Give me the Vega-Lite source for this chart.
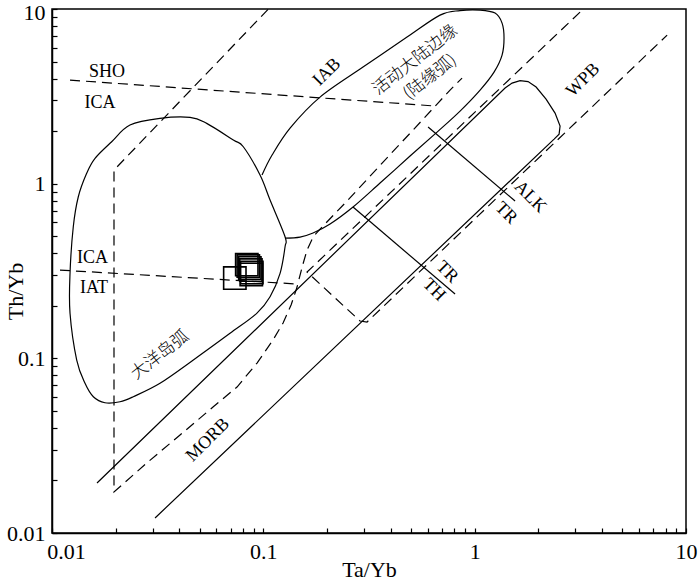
{
  "$schema": "https://vega.github.io/schema/vega-lite/v6.json",
  "width": 634,
  "height": 524,
  "autosize": "none",
  "padding": {"left": 52, "top": 9, "right": 14, "bottom": 48},
  "background": "white",
  "config": {
    "view": {"stroke": "#000", "strokeWidth": 1.5},
    "axis": {
      "grid": false,
      "labelFont": "Liberation Serif",
      "labelFontSize": 22,
      "labelColor": "#000",
      "titleFont": "Liberation Serif",
      "titleFontSize": 22,
      "titleFontWeight": "normal",
      "titleColor": "#000",
      "domainColor": "#000",
      "domainWidth": 1.5,
      "tickColor": "#000",
      "tickWidth": 1.2,
      "tickSize": -5,
      "labelOverlap": false,
      "labelFlush": false,
      "labelBound": false
    }
  },
  "datasets": {
    "oceanic": [
      {"i": 1, "x": 0.02339, "y": 2.165}, {"i": 2, "x": 0.03244, "y": 2.365}, {"i": 3, "x": 0.04499, "y": 2.396},
      {"i": 4, "x": 0.05396, "y": 2.214}, {"i": 5, "x": 0.07211, "y": 1.777}, {"i": 6, "x": 0.0804, "y": 1.627},
      {"i": 7, "x": 0.09647, "y": 1.12}, {"i": 8, "x": 0.1076, "y": 0.8055}, {"i": 9, "x": 0.1267, "y": 0.4967},
      {"i": 10, "x": 0.1267, "y": 0.4353}, {"i": 11, "x": 0.12, "y": 0.3066}, {"i": 12, "x": 0.1076, "y": 0.2252},
      {"i": 13, "x": 0.09306, "y": 0.181}, {"i": 14, "x": 0.06956, "y": 0.139}, {"i": 15, "x": 0.04664, "y": 0.09779},
      {"i": 16, "x": 0.03244, "y": 0.07194}, {"i": 17, "x": 0.02425, "y": 0.06029}, {"i": 18, "x": 0.02098, "y": 0.05644},
      {"i": 19, "x": 0.01781, "y": 0.0557}, {"i": 20, "x": 0.01569, "y": 0.06029}, {"i": 21, "x": 0.01433, "y": 0.07194},
      {"i": 22, "x": 0.01309, "y": 0.09779}, {"i": 23, "x": 0.01217, "y": 0.181}, {"i": 24, "x": 0.01217, "y": 0.3066},
      {"i": 25, "x": 0.01261, "y": 0.5665}, {"i": 26, "x": 0.01332, "y": 0.8414}, {"i": 27, "x": 0.01459, "y": 1.146},
      {"i": 28, "x": 0.01598, "y": 1.396}, {"i": 29, "x": 0.01916, "y": 1.738}
    ],
    "ellipse": [
      {"i": 1, "x": 0.1267, "y": 0.4882}, {"i": 2, "x": 0.1492, "y": 0.4947}, {"i": 3, "x": 0.1719, "y": 0.5216},
      {"i": 4, "x": 0.2069, "y": 0.5871}, {"i": 5, "x": 0.2657, "y": 0.7347}, {"i": 6, "x": 0.3567, "y": 1.008},
      {"i": 7, "x": 0.4946, "y": 1.439}, {"i": 8, "x": 0.6639, "y": 1.974}, {"i": 9, "x": 0.8529, "y": 2.604},
      {"i": 10, "x": 1.061, "y": 3.434}, {"i": 11, "x": 1.235, "y": 4.352}, {"i": 12, "x": 1.348, "y": 5.446},
      {"i": 13, "x": 1.377, "y": 6.815}, {"i": 14, "x": 1.348, "y": 8.306}, {"i": 15, "x": 1.249, "y": 9.474},
      {"i": 16, "x": 1.061, "y": 9.856}, {"i": 17, "x": 0.8529, "y": 9.79}, {"i": 18, "x": 0.6858, "y": 9.228},
      {"i": 19, "x": 0.4786, "y": 6.907}, {"i": 20, "x": 0.2963, "y": 4.65}, {"i": 21, "x": 0.1855, "y": 3.131},
      {"i": 22, "x": 0.1338, "y": 2.081}, {"i": 23, "x": 0.11, "y": 1.458}, {"i": 24, "x": 0.09858, "y": 1.12}
    ],
    "solid": [
      {"id": "mantle", "i": 1, "x": 0.01633, "y": 0.01933}, {"id": "mantle", "i": 2, "x": 1.393, "y": 3.526},
      {"id": "mantle", "i": 3, "x": 1.503, "y": 3.766}, {"id": "mantle", "i": 4, "x": 1.64, "y": 3.892},
      {"id": "mantle", "i": 5, "x": 1.789, "y": 3.841}, {"id": "mantle", "i": 6, "x": 1.953, "y": 3.573},
      {"id": "mantle", "i": 7, "x": 2.177, "y": 3.05}, {"id": "mantle", "i": 8, "x": 2.401, "y": 2.536},
      {"id": "mantle", "i": 9, "x": 2.536, "y": 2.136}, {"id": "mantle", "i": 10, "x": 2.509, "y": 1.922},
      {"id": "mantle", "i": 11, "x": 2.376, "y": 1.8}, {"id": "mantle", "i": 12, "x": 0.03073, "y": 0.01219},
      {"id": "thtr", "i": 1, "x": 0.2657, "y": 0.7347}, {"id": "thtr", "i": 2, "x": 0.8077, "y": 0.2334},
      {"id": "tralk", "i": 1, "x": 0.602, "y": 2.109}, {"id": "tralk", "i": 2, "x": 1.553, "y": 0.7951}
    ],
    "dashed": [
      {"id": "sho", "i": 1, "x": 0.01217, "y": 3.917}, {"id": "sho", "i": 2, "x": 0.6566, "y": 2.781},
      {"id": "iat", "i": 1, "x": 0.01091, "y": 0.32}, {"id": "iat", "i": 2, "x": 0.1459, "y": 0.2663},
      {"id": "v", "i": 1, "x": 0.1053, "y": 9.95}, {"id": "v", "i": 2, "x": 0.01965, "y": 1.196},
      {"id": "v", "i": 3, "x": 0.01965, "y": 0.01717}, {"id": "v", "i": 4, "x": 0.02807, "y": 0.02516},
      {"id": "v", "i": 5, "x": 0.04035, "y": 0.03639}, {"id": "v", "i": 6, "x": 0.0578, "y": 0.05263},
      {"id": "v", "i": 7, "x": 0.07508, "y": 0.06851}, {"id": "v", "i": 8, "x": 0.09337, "y": 0.094},
      {"id": "v", "i": 9, "x": 0.1111, "y": 0.1273}, {"id": "v", "i": 10, "x": 0.124, "y": 0.1593},
      {"id": "v", "i": 11, "x": 0.1353, "y": 0.2019}, {"id": "v", "i": 12, "x": 0.1444, "y": 0.256},
      {"id": "v", "i": 13, "x": 0.1526, "y": 0.3332}, {"id": "v", "i": 14, "x": 0.161, "y": 0.4169},
      {"id": "v", "i": 15, "x": 0.1719, "y": 0.4947}, {"id": "v", "i": 16, "x": 0.1855, "y": 0.5495},
      {"id": "v", "i": 17, "x": 0.2489, "y": 0.7951}, {"id": "v", "i": 18, "x": 0.3686, "y": 1.329},
      {"id": "v", "i": 19, "x": 0.511, "y": 2.027}, {"id": "v", "i": 20, "x": 0.6639, "y": 2.856},
      {"id": "v", "i": 21, "x": 0.7648, "y": 3.434}, {"id": "v", "i": 22, "x": 0.8718, "y": 4.023},
      {"id": "u", "i": 1, "x": 3.153, "y": 9.601}, {"id": "u", "i": 2, "x": 0.161, "y": 0.3119},
      {"id": "u", "i": 3, "x": 0.2868, "y": 0.1635}, {"id": "u", "i": 4, "x": 0.3096, "y": 0.1614},
      {"id": "u", "i": 5, "x": 8.141, "y": 7.088}
    ],
    "samples": [
      {"x": 0.0733, "y": 0.288}, {"x": 0.0835, "y": 0.344}, {"x": 0.0849, "y": 0.3375},
      {"x": 0.0863, "y": 0.329}, {"x": 0.0873, "y": 0.32}, {"x": 0.0882, "y": 0.31}, {"x": 0.0877, "y": 0.302}
    ],
    "labels_h": [
      {"x": 0.01821, "y": 4.352, "t": "SHO"}, {"x": 0.01687, "y": 2.894, "t": "ICA"},
      {"x": 0.01555, "y": 0.3751, "t": "ICA"}, {"x": 0.0158, "y": 0.2527, "t": "IAT"}
    ],
    "labels_up": [
      {"x": 0.2002, "y": 4.352, "t": "IAB"}, {"x": 3.258, "y": 3.917, "t": "WPB"},
      {"x": 0.05473, "y": 0.03405, "t": "MORB"}
    ],
    "labels_down": [
      {"x": 1.829, "y": 0.8381, "t": "ALK"}, {"x": 1.408, "y": 0.6788, "t": "TR"},
      {"x": 0.7402, "y": 0.3119, "t": "TR"}, {"x": 0.6424, "y": 0.246, "t": "TH"}
    ],
    "labels_cn": [
      {"x": 0.5223, "y": 5.1, "t": "活动大陆边缘"}, {"x": 0.6152, "y": 4.076, "t": "(陆缘弧)"},
      {"x": 0.03244, "y": 0.1044, "t": "大洋岛弧"}
    ]
  },
  "encoding": {
    "x": {
      "field": "x", "type": "quantitative",
      "scale": {"type": "log", "domain": [0.01, 10], "nice": false},
      "axis": {
        "title": "Ta/Yb",
        "values": [0.01,0.02,0.03,0.04,0.05,0.06,0.07,0.08,0.09,0.1,0.2,0.3,0.4,0.5,0.6,0.7,0.8,0.9,1,2,3,4,5,6,7,8,9,10],
        "labelExpr": "datum.value == 0.01 ? '0.01' : datum.value == 0.1 ? '0.1' : datum.value == 1 ? '1' : datum.value == 10 ? '10' : ''",
        "labelPadding": 13,
        "labelOffset": {"condition": {"test": "datum.value == 0.01", "value": 14}, "value": 0},
        "titleY": 43,
        "titleBaseline": "alphabetic"
      }
    },
    "y": {
      "field": "y", "type": "quantitative",
      "scale": {"type": "log", "domain": [0.01, 10], "nice": false},
      "axis": {
        "title": "Th/Yb",
        "values": [0.01,0.02,0.03,0.04,0.05,0.06,0.07,0.08,0.09,0.1,0.2,0.3,0.4,0.5,0.6,0.7,0.8,0.9,1,2,3,4,5,6,7,8,9,10],
        "labelExpr": "datum.value == 0.01 ? '0.01' : datum.value == 0.1 ? '0.1' : datum.value == 1 ? '1' : datum.value == 10 ? '10' : ''",
        "labelPadding": 12,
        "labelOffset": {"condition": {"test": "datum.value == 10", "value": 3}, "value": 0},
        "titleX": -30,
        "titleY": 282,
        "titleAngle": -90,
        "titleAlign": "center",
        "titleBaseline": "alphabetic"
      }
    }
  },
  "layer": [
    {
      "data": {"name": "oceanic"},
      "mark": {"type": "line", "interpolate": "cardinal-closed", "color": "#000", "strokeWidth": 1.2},
      "encoding": {"order": {"field": "i", "type": "quantitative"}}
    },
    {
      "data": {"name": "ellipse"},
      "mark": {"type": "line", "interpolate": "cardinal", "color": "#000", "strokeWidth": 1.2},
      "encoding": {"order": {"field": "i", "type": "quantitative"}}
    },
    {
      "data": {"name": "solid"},
      "mark": {"type": "line", "color": "#000", "strokeWidth": 1.2},
      "encoding": {"detail": {"field": "id"}, "order": {"field": "i", "type": "quantitative"}}
    },
    {
      "data": {"name": "dashed"},
      "mark": {"type": "line", "color": "#000", "strokeWidth": 1.2, "strokeDash": [10, 6]},
      "encoding": {"detail": {"field": "id"}, "order": {"field": "i", "type": "quantitative"}}
    },
    {
      "data": {"name": "samples"},
      "mark": {"type": "point", "shape": "square", "filled": false, "size": 500, "strokeWidth": 1.6, "color": "#000", "opacity": 1}
    },
    {
      "data": {"name": "labels_h"},
      "mark": {"type": "text", "font": "Liberation Serif", "fontSize": 18, "color": "#000", "align": "center", "baseline": "middle"},
      "encoding": {"text": {"field": "t"}}
    },
    {
      "data": {"name": "labels_up"},
      "mark": {"type": "text", "font": "Liberation Serif", "fontSize": 18, "color": "#000", "align": "center", "baseline": "middle", "angle": 315},
      "encoding": {"text": {"field": "t"}}
    },
    {
      "data": {"name": "labels_down"},
      "mark": {"type": "text", "font": "Liberation Serif", "fontSize": 18, "color": "#000", "align": "center", "baseline": "middle", "angle": 45},
      "encoding": {"text": {"field": "t"}}
    },
    {
      "data": {"name": "labels_cn"},
      "mark": {"type": "text", "font": "Noto Sans CJK SC", "fontSize": 17, "fontWeight": 300, "color": "#000", "align": "center", "baseline": "middle", "angle": 322},
      "encoding": {"text": {"field": "t"}}
    }
  ]
}
